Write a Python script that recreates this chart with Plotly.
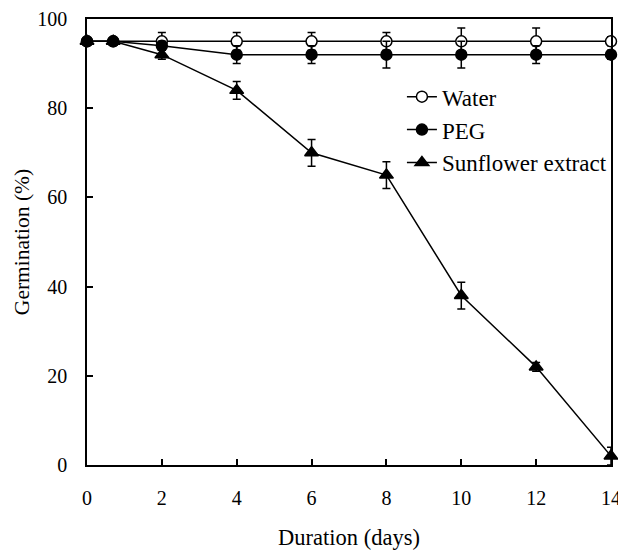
import plotly.graph_objects as go

days = [0, 0.7, 2, 4, 6, 8, 10, 12, 14]
water = [95, 95, 95, 95, 95, 95, 95, 95, 95]
water_err = [0, 0, 2, 2, 2, 2, 3, 3, 1]
peg = [95, 95, 94, 92, 92, 92, 92, 92, 92]
peg_err = [0, 0, 1, 2, 2, 3, 3, 2, 1]
sunflower = [95, 95, 92, 84, 70, 65, 38, 22, 2]
sunflower_err = [0, 0, 1, 2, 3, 3, 3, 1, 2]

x_ticks = [0, 2, 4, 6, 8, 10, 12, 14]
y_ticks = [0, 20, 40, 60, 80, 100]

FONT = "Liberation Serif"

def trace(name, y, err, symbol, fill):
    return go.Scatter(
        x=days, y=y, name=name, mode="lines+markers",
        line=dict(color="black", width=1.5),
        marker=dict(symbol=symbol, size=11 if symbol != "triangle-up" else 12,
                    color=fill, line=dict(color="black", width=1.5)),
        error_y=dict(type="data", array=err, visible=True, color="black",
                     thickness=1.5, width=4),
        cliponaxis=False,
    )

fig = go.Figure()
fig.add_trace(trace("Water", water, water_err, "circle", "white"))
fig.add_trace(trace("PEG", peg, peg_err, "circle", "black"))
fig.add_trace(trace("Sunflower extract", sunflower, sunflower_err, "triangle-up", "black"))

axis_common = dict(showline=True, linecolor="black", linewidth=1.5, mirror=True,
                   ticks="inside", ticklen=6, tickwidth=1.5, tickcolor="black",
                   showgrid=False, zeroline=False, automargin=False,
                   tickfont=dict(family=FONT, size=20, color="black"))

fig.update_xaxes(range=[0, 14], tickvals=x_ticks, ticklabelstandoff=14,
                 title=dict(text="Duration (days)", font=dict(family=FONT, size=22.5, color="black"),
                            standoff=22),
                 **axis_common)
fig.update_yaxes(range=[0, 100], tickvals=y_ticks, ticklabelstandoff=14,
                 title=dict(text="Germination (%)", font=dict(family=FONT, size=21.5, color="black"),
                            standoff=2),
                 **axis_common)

fig.update_layout(
    width=618, height=542,
    margin=dict(l=79, r=15, t=11, b=85),
    plot_bgcolor="white", paper_bgcolor="white",
    showlegend=True,
    legend=dict(x=0.601, y=0.874, xanchor="left", yanchor="top",
                font=dict(family=FONT, size=23, color="black"),
                bgcolor="rgba(0,0,0,0)", tracegroupgap=0, itemwidth=30),
)

fig.write_html("out.html")
